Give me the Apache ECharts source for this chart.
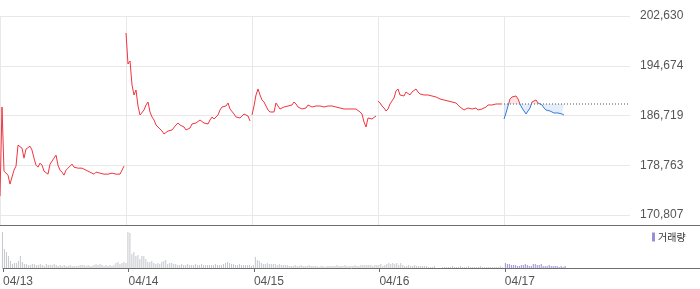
<!DOCTYPE html>
<html><head><meta charset="utf-8">
<script src="https://cdn.jsdelivr.net/npm/echarts@6/dist/echarts.min.js"></script>
<style>html,body{margin:0;padding:0;background:#fff}#c{width:700px;height:289px}</style>
</head><body><div id="c"></div>
<script>
const dayLabels = ['04/13', '04/14', '04/15', '04/16', '04/17'];
const yTicks = [170807, 178763, 186719, 194674, 202630];
const prevClose = 188557;

const price0413 = [173830, 188080, 177820, 177660, 177180, 175750, 176060, 177980, 178620, 181980, 181980, 181500, 179900, 181340, 181500, 181820, 181180, 179900, 178780, 178460, 179100, 178780, 177820, 177820, 177340, 178940, 179100, 179900, 180380, 178780, 177980, 177660, 177180, 177980, 178300, 178300, 178940, 178460, 178460, 178300, 178460, 178300, 178300, 177980, 177980, 177660, 177660, 177340, 177660, 177500, 177500, 177340, 177340, 177500, 177340, 177500, 177500, 177340, 177340, 177180, 177340, 177340, 178620];
const price0414 = [199910, 194950, 195430, 191600, 190000, 190800, 188240, 186800, 186800, 187600, 188400, 188880, 187280, 186480, 186000, 185200, 184880, 184560, 184240, 183760, 183920, 184240, 184400, 184400, 184240, 185200, 185520, 185200, 185040, 184880, 184400, 184240, 184720, 185360, 185520, 185520, 185680, 186000, 185840, 185520, 185360, 185360, 186000, 186480, 186160, 186480, 186800, 187600, 188080, 188080, 188240, 188720, 187760, 187760, 186960, 186480, 186480, 186320, 186160, 186960, 186960, 186640, 185840];
const price0415 = [186800, 188240, 190000, 190960, 190000, 189200, 188880, 188240, 187600, 187280, 187280, 187280, 188720, 188240, 187760, 187760, 188080, 188080, 188240, 188400, 188400, 188880, 188560, 188080, 187920, 187760, 187920, 187920, 188400, 188400, 188080, 188080, 188240, 188080, 188240, 188240, 188080, 188080, 188240, 188400, 188240, 188080, 188080, 188080, 187920, 187760, 187760, 187760, 187760, 187600, 187760, 187920, 187760, 187600, 187280, 186960, 185680, 184880, 186320, 186160, 186160, 186320, 186640];
const price0416 = [189040, 188720, 188240, 187920, 187440, 187760, 188560, 189040, 189520, 190640, 190960, 190000, 189840, 189840, 190480, 190640, 190000, 190480, 190320, 190960, 190480, 190160, 190320, 190000, 189840, 190000, 189840, 189840, 189840, 189680, 189680, 189360, 189200, 189200, 189040, 189040, 188880, 188880, 188880, 188720, 188400, 188080, 188080, 187600, 187600, 187920, 188080, 187760, 187920, 187920, 187600, 187600, 187760, 187920, 188080, 188400, 188240, 188400, 188400, 188560, 188720, 188560, 188560];
const price0417 = [186160, 187120, 188240, 189360, 189680, 189680, 189840, 189360, 188560, 187920, 187440, 186960, 187120, 187920, 188880, 188880, 189200, 188720, 188720, 188400, 187920, 187600, 187440, 187440, 187280, 187120, 187120, 187120, 186960, 186960, 186800];

const vol0413 = [36, 19, 16, 12, 7, 4, 5, 5, 7, 12, 6, 4, 4, 3, 3, 4, 4, 3, 3, 4, 3, 2, 4, 3, 3, 3, 4, 3, 2, 3, 2, 3, 2, 2, 3, 2, 2, 2, 2, 3, 3, 3, 2, 3, 2, 2, 3, 4, 3, 4, 3, 2, 3, 2, 3, 2, 3, 5, 6, 4, 5, 6, 5];
const vol0414 = [36, 35, 14, 16, 12, 13, 9, 12, 12, 9, 6, 6, 7, 5, 4, 5, 4, 6, 7, 8, 4, 5, 5, 4, 4, 3, 3, 4, 3, 3, 4, 3, 3, 3, 4, 3, 3, 4, 3, 3, 3, 3, 3, 3, 4, 3, 3, 3, 4, 5, 6, 5, 4, 4, 3, 3, 4, 3, 3, 3, 3, 3, 2];
const vol0415 = [3, 11, 8, 7, 5, 4, 4, 5, 4, 4, 4, 4, 3, 4, 3, 3, 3, 3, 2, 2, 2, 3, 2, 2, 3, 2, 2, 2, 3, 2, 2, 2, 2, 1, 2, 2, 1, 2, 2, 2, 2, 2, 3, 2, 2, 2, 3, 2, 2, 2, 2, 3, 2, 2, 3, 3, 3, 3, 3, 3, 2, 3, 3];
const vol0416 = [3, 4, 2, 3, 4, 5, 4, 5, 4, 5, 3, 5, 3, 2, 2, 3, 2, 2, 3, 2, 2, 2, 2, 2, 2, 1, 1, 1, 2, 0, 0, 0, 1, 1, 1, 1, 1, 2, 1, 1, 1, 2, 1, 1, 1, 2, 1, 1, 1, 1, 1, 2, 1, 1, 1, 1, 1, 1, 1, 1, 1, 2, 1];
const vol0417 = [5, 4, 4, 3, 3, 3, 2, 2, 3, 3, 4, 3, 2, 2, 4, 4, 3, 3, 4, 2, 2, 2, 3, 2, 2, 2, 2, 1, 2, 1, 2];

const N = 63; // points per trading day
const RED = '#f2343f', BLUE = '#3478dc';
const RED_FILL = 'rgba(242,52,63,0.13)', BLUE_FILL = 'rgba(52,120,220,0.13)';

const pastPrice = [price0413, price0414, price0415, price0416];
const lineData = [];
pastPrice.forEach((arr, d) => {
  arr.forEach((v, i) => lineData.push([d + i / N, v]));
  lineData.push([d + (N - 0.5) / N, '-']);
});
const todayData = price0417.map((v, i) => [4 + i / N, v]);
const refLine = [[4, prevClose], [5, prevClose]];

// split colour at the previous close (fraction of the day-5 path's vertical extent)
const tMax = Math.max(...price0417), tMin = Math.min(...price0417);
const off = (tMax - prevClose) / (tMax - tMin);
function split(c1, c2) {
  return new echarts.graphic.LinearGradient(0, 0, 0, 1, [
    { offset: 0, color: c1 }, { offset: off, color: c1 },
    { offset: off, color: c2 }, { offset: 1, color: c2 }
  ]);
}

const pastVol = [vol0413, vol0414, vol0415, vol0416];
const volData = [];
pastVol.forEach((arr, d) => arr.forEach((v, i) => volData.push([d + i / N, v])));
const todayVol = vol0417.map((v, i) => [4 + i / N, v]);

const font = 'Liberation Sans, Arial, sans-serif';
const chart = echarts.init(document.getElementById('c'), null, { renderer: 'canvas' });
chart.setOption({
  animation: false,
  backgroundColor: '#fff',
  grid: [
    { left: 0, width: 630, top: 16, height: 209 },
    { left: 0, right: 0, top: 229, height: 39 },
    { left: 0, right: 0, top: 16, height: 209 }
  ],
  legend: {
    data: ['거래량'], left: 652, top: 232, padding: 0, itemGap: 0,
    icon: 'rect', itemWidth: 3, itemHeight: 9, selectedMode: false,
    textStyle: { fontSize: 10, color: '#333', fontFamily: 'Noto Sans CJK KR', padding: [0, 0, 0, -2] }
  },
  xAxis: [
    {
      gridIndex: 0, type: 'value', min: 0, max: 5, interval: 1,
      axisLine: { show: false }, axisTick: { show: false }, axisLabel: { show: false },
      splitLine: { show: true, showMaxLine: false, lineStyle: { color: '#e8e8e8', width: 1 } }
    },
    {
      gridIndex: 1, type: 'value', min: 0, max: 50 / 9,
      axisLine: { show: true, onZero: false, lineStyle: { color: '#6e6e6e', width: 1 } },
      axisTick: { show: true, length: 4, customValues: [0, 1, 2, 3, 4], lineStyle: { color: '#6e6e6e' } },
      axisLabel: {
        show: true, customValues: [0, 1, 2, 3, 4], margin: 8, align: 'left',
        formatter: v => dayLabels[Math.round(v)] || '', color: '#555', fontSize: 12, fontFamily: font
      },
      splitLine: { show: false }
    },
    {
      gridIndex: 2, type: 'value', min: 0, max: 1,
      axisLine: { show: true, onZero: false, lineStyle: { color: '#6e6e6e', width: 1 } },
      axisTick: { show: false }, axisLabel: { show: false }, splitLine: { show: false }
    }
  ],
  yAxis: [
    {
      gridIndex: 0, type: 'value', position: 'right', min: 169208, max: 202630,
      axisLine: { show: false },
      axisTick: { show: false, customValues: yTicks },
      axisLabel: {
        customValues: yTicks, margin: 10, color: '#555', fontSize: 12, fontFamily: font,
        formatter: v => Math.round(v).toLocaleString('en-US')
      },
      splitLine: { show: true, lineStyle: { color: '#e8e8e8', width: 1 } }
    },
    { gridIndex: 1, type: 'value', min: 0, max: 39, show: false },
    { gridIndex: 2, type: 'value', min: 0, max: 1, show: false }
  ],
  series: [
    {
      name: 'price', type: 'line', xAxisIndex: 0, yAxisIndex: 0, data: lineData,
      showSymbol: false, connectNulls: false, lineStyle: { color: RED, width: 1 }, itemStyle: { color: RED }
    },
    {
      name: 'prevClose', type: 'line', xAxisIndex: 0, yAxisIndex: 0, data: refLine,
      showSymbol: false, silent: true, lineStyle: { color: '#555', type: [1, 2], width: 1 }
    },
    {
      name: 'today', type: 'line', xAxisIndex: 0, yAxisIndex: 0, data: todayData,
      showSymbol: false, lineStyle: { width: 1, color: split(RED, BLUE) },
      areaStyle: { origin: prevClose, color: split(RED_FILL, BLUE_FILL), opacity: 1 }
    },
    {
      name: 'volPast', type: 'bar', xAxisIndex: 1, yAxisIndex: 1, data: volData,
      barWidth: 1, itemStyle: { color: '#c3c6cb' }
    },
    {
      name: '거래량', type: 'bar', xAxisIndex: 1, yAxisIndex: 1, data: todayVol,
      barWidth: 1, itemStyle: { color: '#9b8ed4' }
    }
  ]
});
</script>
</body></html>
